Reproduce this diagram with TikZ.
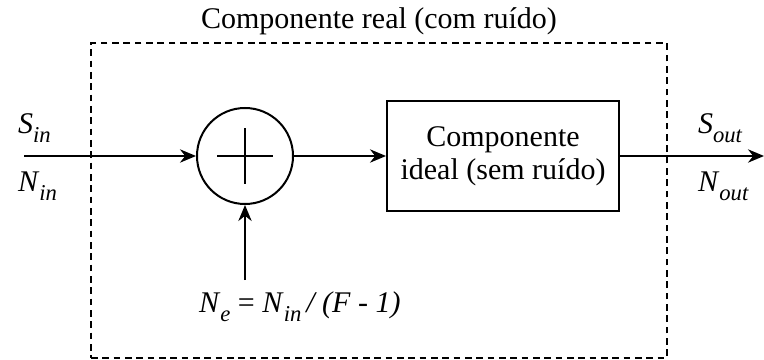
\documentclass[tikz,border=0pt]{standalone}
\usepackage{fontspec}
\setmainfont{Liberation Serif}
\usepackage{tikz}
\usetikzlibrary{positioning}
\usetikzlibrary{arrows.meta}

\newcommand{\sinal}[2]{\textit{#1}\raisebox{-0.33em}{\fontsize{17}{17}\selectfont\textit{#2}}}

\tikzset{
  somador/.style={circle, draw, minimum size=72pt, inner sep=0pt},
  bloco/.style={rectangle, draw, minimum width=174pt, minimum height=82.5pt, align=center, inner sep=0pt},
  tracejado/.style={rectangle, draw, dash pattern=on 5pt off 3.5pt, line width=1.1pt},
  rotulo/.style={inner sep=0pt, anchor=base west}
}

\begin{document}
\begin{tikzpicture}[x=0.75pt, y=-0.75pt, line width=1.5pt, >={Stealth[length=12pt, width=10pt]}, font=\fontsize{22.5}{24.75}\selectfont]
    \useasboundingbox (0,0) rectangle (764,360);

    % Blocos principais
    \node[tracejado, minimum width=432pt, minimum height=236.25pt] (real) at (379,200.5) {};
    \node[above=4.5pt of real, inner sep=0pt] (titulo) {Componente real (com ruído)};
    \node[somador] (soma) at (245,156) {};
    \draw (soma.center) +(-28,0) -- +(28,0) +(0,-28) -- +(0,28);
    \node[bloco] (ideal) at (503,156) {Componente\\ideal (sem ruído)};

    % Entrada, saida e ruido
    \coordinate (entrada) at (24,156);
    \coordinate (saida) at (764,156);
    \coordinate (ruido) at (245,280);

    \node[rotulo] (sin) at (17,133) {\sinal{S}{in}};
    \node[rotulo] (nin) at (17,191) {\sinal{N}{in}};
    \node[rotulo] (sout) at (697,133) {\sinal{S}{out}};
    \node[rotulo] (nout) at (697,191) {\sinal{N}{out}};
    \node[rotulo] (ne) at (198,312) {\sinal{N}{e} = \sinal{N}{in}\,\textit{/ (F - 1)}};

    \draw[->] (entrada) -- (soma);
    \draw[->] (soma) -- (ideal);
    \draw[->] (ideal) -- (saida);
    \draw[->] (ruido) -- (soma);
\end{tikzpicture}
\end{document}
